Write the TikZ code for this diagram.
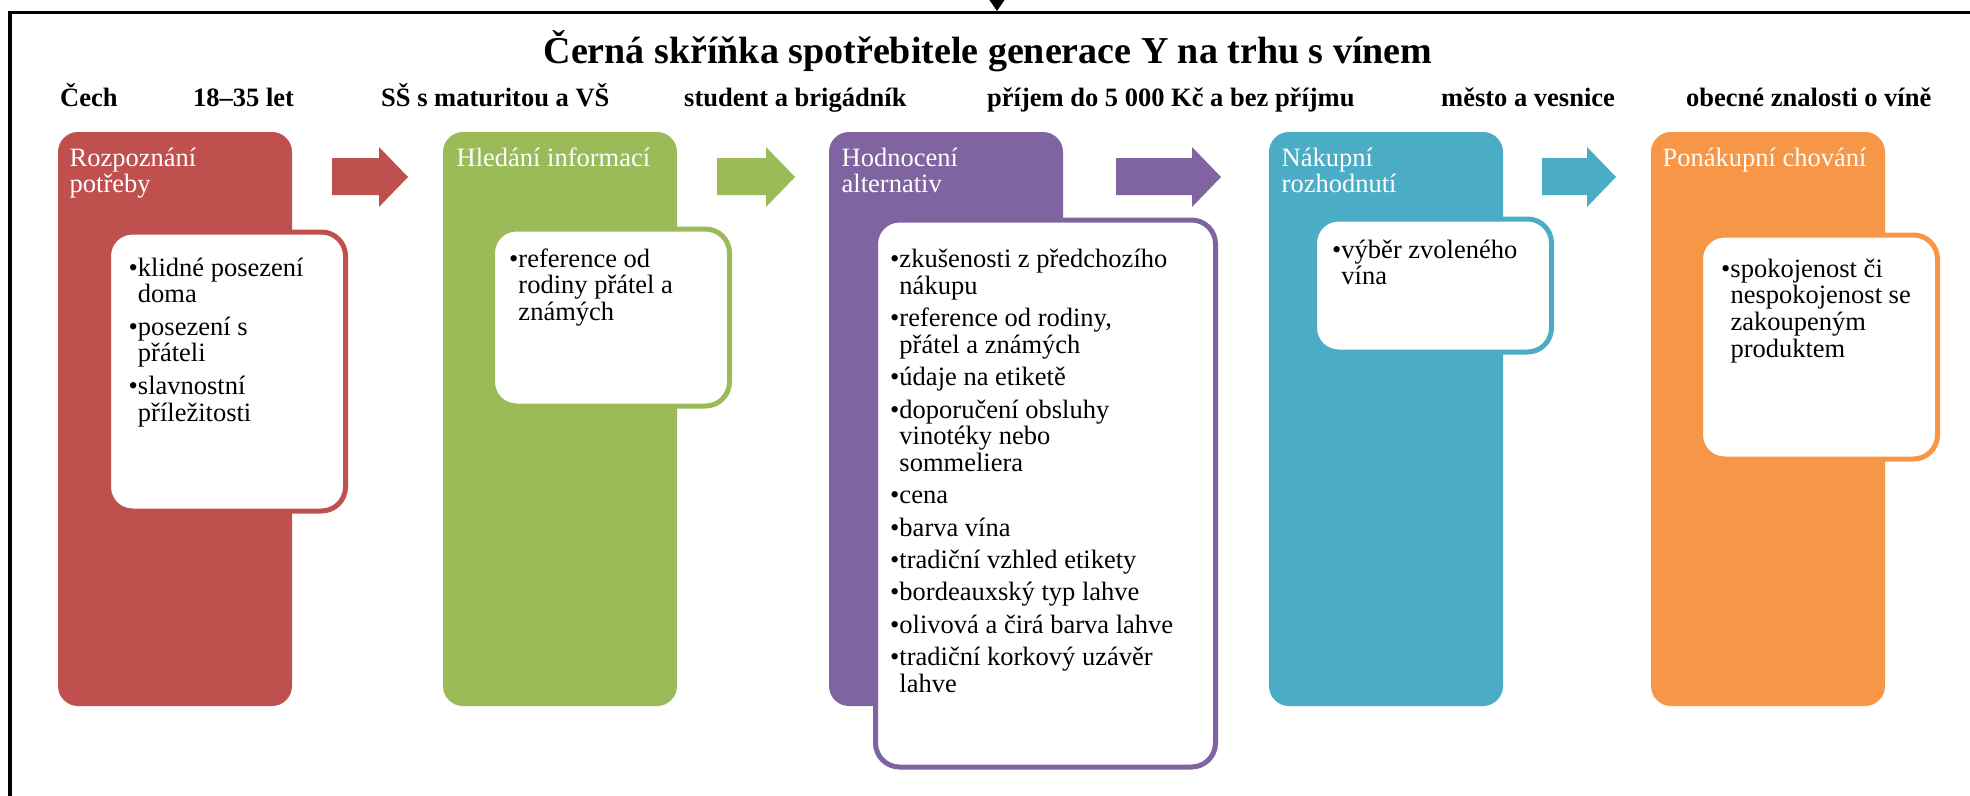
\documentclass[tikz,border=0pt]{standalone}
\usepackage{fontspec}
\setmainfont{Liberation Serif}
\usetikzlibrary{arrows.meta}
\definecolor{cred}{HTML}{C0504D}
\definecolor{cgreen}{HTML}{9BBB59}
\definecolor{cpurple}{HTML}{8064A2}
\definecolor{cblue}{HTML}{4BACC6}
\definecolor{corange}{HTML}{F79646}
\newcommand{\velke}{\fontsize{26.5}{26}\selectfont}
\newcommand{\seznam}{\fontsize{26.5}{26.8}\selectfont}
\newcommand{\bod}{\textbullet}
\begin{document}
\begin{tikzpicture}[x=1pt, y=-1pt,
    faze/.style={rectangle, rounded corners=20pt, minimum width=234pt, minimum height=574pt, anchor=north west, inner sep=0pt, outer sep=0pt},
    fazetext/.style={anchor=base west, align=left, text=white, font=\velke, inner sep=0pt},
    karta/.style={rectangle, rounded corners=24pt, fill=white, line width=5pt, anchor=north west, inner sep=0pt, outer sep=0pt},
    body/.style={anchor=base west, inner sep=0pt, font=\seznam},
    popis/.style={anchor=base west, inner sep=0pt, font=\fontsize{26.5}{30}\selectfont\bfseries}]
    \useasboundingbox (0,0) rectangle (1970,795);
    \clip (0,0) rectangle (1970,795);
    \draw[line width=3.5pt] (10,800) -- (10,12.5) -- (1975,12.5); %rámeček
    \coordinate (vstup) at (997,-40);
    \coordinate (ramec) at (997,11);
    \draw[line width=2pt, -{Triangle[length=12pt,width=16pt]}] (vstup) -- (ramec);
    \node[font=\fontsize{38}{40}\selectfont\bfseries, anchor=base, inner sep=0pt] (nadpis) at (988,63) {Černá skříňka spotřebitele generace Y na trhu s vínem};
    \node[popis] (p1) at (60,106) {Čech};
    \node[popis] (p2) at (193,106) {18–35 let};
    \node[popis] (p3) at (381,106) {SŠ s maturitou a VŠ};
    \node[popis] (p4) at (684,106) {student a brigádník};
    \node[popis] (p5) at (987,106) {příjem do 5 000 Kč a bez příjmu};
    \node[popis] (p6) at (1441,106) {město a vesnice};
    \node[popis] (p7) at (1686,106) {obecné znalosti o víně};
    % fáze
    \foreach \n/\x/\c in {a/58/cred, b/443/cgreen, c/829/cpurple, d/1269/cblue, e/1651/corange}
        \node[faze, fill=\c] (faze\n) at (\x,132) {};
    \foreach \xa/\xb/\c in {332/408/cred, 717/795/cgreen, 1116/1221/cpurple, 1542/1616/cblue}
        \fill[\c] (\xa,158) -- (\xb-29,158) -- (\xb-29,147) -- (\xb,177) -- (\xb-29,207) -- (\xb-29,195) -- (\xa,195) -- cycle; %šipky
    \node[fazetext] (ta) at (69.5,192) {Rozpoznání\\potřeby};
    \node[fazetext] (tb) at (456.5,166) {Hledání informací};
    \node[fazetext] (tc) at (841.5,192) {Hodnocení\\alternativ};
    \node[fazetext] (td) at (1281.5,192) {Nákupní\\rozhodnutí};
    \node[fazetext] (te) at (1662.5,166) {Ponákupní chování};
    % karty
    \node[karta, draw=cred, minimum width=237pt, minimum height=279pt] (ka) at (108.5,232) {};
    \node[karta, draw=cgreen, minimum width=237pt, minimum height=177pt] (kb) at (492.5,229) {};
    \node[karta, draw=cpurple, minimum width=340pt, minimum height=547pt] (kc) at (875.5,220) {};
    \node[karta, draw=cblue, minimum width=237pt, minimum height=133pt] (kd) at (1314.5,219) {};
    \node[karta, draw=corange, minimum width=237pt, minimum height=224pt] (ke) at (1700.5,235) {};
    \node[body] (sa) at (128.5,276) {\begin{tabular}[t]{@{}l@{}l@{}}
        \bod&klidné posezení\\ &doma\\[5.5pt]
        \bod&posezení s\\ &přáteli\\[5.5pt]
        \bod&slavnostní\\ &příležitosti\end{tabular}};
    \node[body] (sb) at (509,267) {\begin{tabular}[t]{@{}l@{}l@{}}
        \bod&reference od\\ &rodiny přátel a\\ &známých\end{tabular}};
    \node[body] (sc) at (890,267.5) {\begin{tabular}[t]{@{}l@{}l@{}}
        \bod&zkušenosti z předchozího\\ &nákupu\\[5.5pt]
        \bod&reference od rodiny,\\ &přátel a známých\\[5.5pt]
        \bod&údaje na etiketě\\[5.5pt]
        \bod&doporučení obsluhy\\ &vinotéky nebo\\ &sommeliera\\[5.5pt]
        \bod&cena\\[5.5pt]
        \bod&barva vína\\[5.5pt]
        \bod&tradiční vzhled etikety\\[5.5pt]
        \bod&bordeauxský typ lahve\\[5.5pt]
        \bod&olivová a čirá barva lahve\\[5.5pt]
        \bod&tradiční korkový uzávěr\\ &lahve\end{tabular}};
    \node[body] (sd) at (1332,258) {\begin{tabular}[t]{@{}l@{}l@{}}
        \bod&výběr zvoleného\\ &vína\end{tabular}};
    \node[body] (se) at (1721,277) {\begin{tabular}[t]{@{}l@{}l@{}}
        \bod&spokojenost či\\ &nespokojenost se\\ &zakoupeným\\ &produktem\end{tabular}};
\end{tikzpicture}
\end{document}
